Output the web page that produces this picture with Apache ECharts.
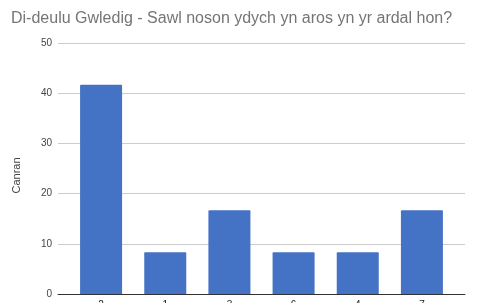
<!DOCTYPE html>
<html>
<head>
<meta charset="utf-8">
<script src="https://cdn.jsdelivr.net/npm/echarts@6/dist/echarts.min.js"></script>
<style>
  html, body { margin: 0; padding: 0; background: #ffffff; }
  #chart { width: 477px; height: 303px; }
</style>
</head>
<body>
<div id="chart"></div>
<script>
// data
const titleText = 'Di-deulu Gwledig - Sawl noson ydych yn aros yn yr ardal hon?';
const categories = ['2', '1', '3', '6', '4', '7'];
const percentValues = [41.7, 8.3, 16.7, 8.3, 8.3, 16.7];
const yTicks = [0, 10, 20, 30, 40, 50];
const yName = 'Canran';

const chart = echarts.init(document.getElementById('chart'));

const font = 'Arial, "Liberation Sans", sans-serif';

const option = {
  animation: false,
  title: {
    text: titleText,
    left: 6,
    top: 6,
    textStyle: {
      fontFamily: font,
      fontSize: 16,
      fontWeight: 'normal',
      color: '#757575'
    }
  },
  // grid 0 carries gridlines, y labels and baseline; grid 1 carries the bars
  grid: [
    { left: 58, right: 12, top: 43, bottom: 9, containLabel: false, outerBoundsMode: 'none' },
    { left: 69, right: 23, top: 43, bottom: 9, containLabel: false, outerBoundsMode: 'none' }
  ],
  xAxis: [{
    gridIndex: 0,
    type: 'value',
    min: 0,
    max: 1,
    axisLine: { show: true, lineStyle: { color: '#333333', width: 1 } },
    axisTick: { show: false },
    axisLabel: { show: false },
    splitLine: { show: false }
  }, {
    gridIndex: 1,
    type: 'category',
    data: categories,
    axisLine: { show: false },
    axisTick: { show: false },
    axisLabel: {
      fontFamily: font,
      fontSize: 10,
      color: '#222222',
      margin: 6
    }
  }],
  yAxis: [{
    gridIndex: 0,
    type: 'value',
    min: yTicks[0],
    max: yTicks[yTicks.length - 1],
    interval: 10,
    name: yName,
    nameLocation: 'middle',
    nameGap: 36,
    nameTextStyle: {
      fontFamily: font,
      fontSize: 11,
      color: '#444444',
      padding: [0, 0, 0, -14]
    },
    axisLine: { show: false },
    axisTick: { show: false },
    axisLabel: {
      fontFamily: font,
      fontSize: 10,
      color: '#444444',
      margin: 6
    },
    splitLine: { lineStyle: { color: '#cccccc', width: 1 } }
  }, {
    gridIndex: 1,
    type: 'value',
    min: yTicks[0],
    max: yTicks[yTicks.length - 1],
    show: false
  }],
  series: [{
    type: 'bar',
    xAxisIndex: 1,
    yAxisIndex: 1,
    data: percentValues,
    barWidth: 42,
    itemStyle: {
      color: '#4472c4',
      borderRadius: [1, 1, 0, 0]
    }
  }]
};

chart.setOption(option);
</script>
</body>
</html>
